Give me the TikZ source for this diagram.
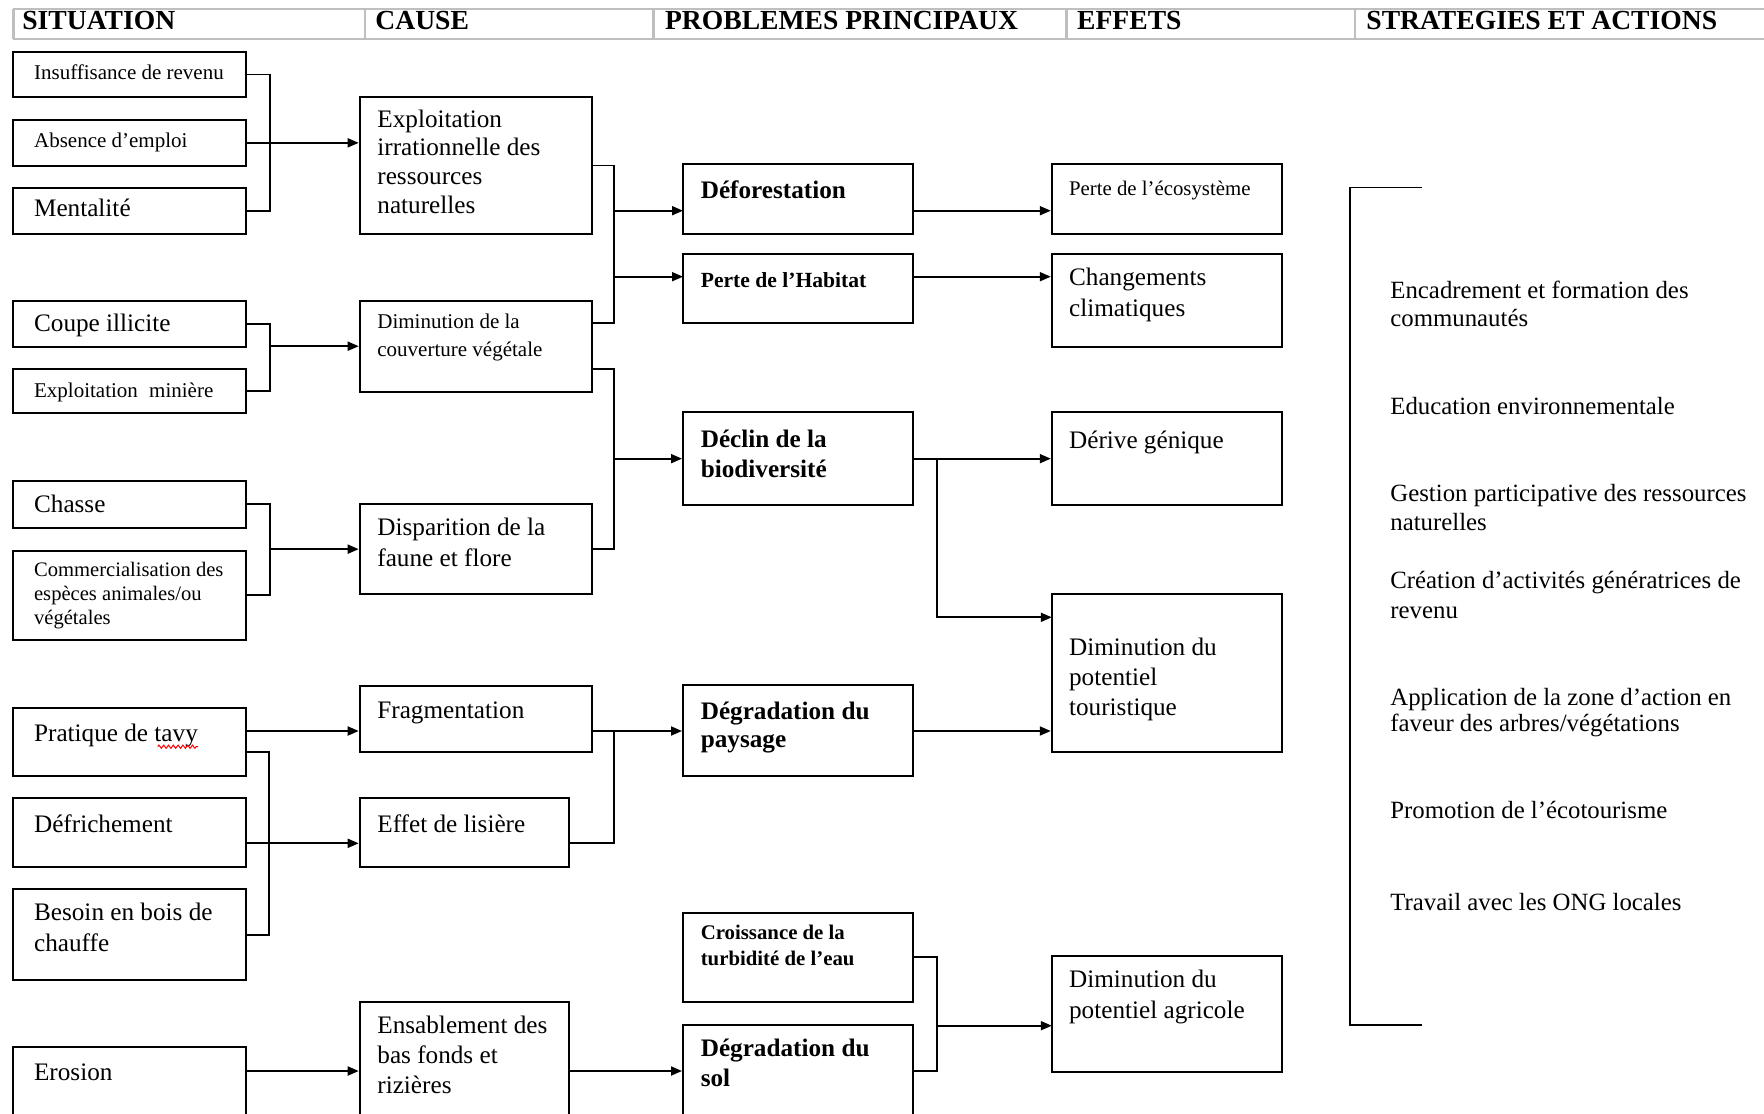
\documentclass[tikz,border=0pt]{standalone}
\usepackage{fontspec}
\setmainfont{Liberation Serif}
\usepackage{array}
\usetikzlibrary{arrows.meta,fit,decorations.pathmorphing}
\newcommand\boxtext[3]{\fontsize{#1}{#2}\selectfont\begin{tabular}[t]{@{}l@{}}#3\end{tabular}}
\newcommand\boxtextb[3]{\fontsize{#1}{#2}\selectfont\begin{tabular}[t]{@{}>{\bfseries}l@{}}#3\end{tabular}}
\begin{document}
\begin{tikzpicture}[x=0.5pt,y=-0.5pt,
  box/.style={draw=black, line width=1pt, inner sep=0pt},
  line/.style={draw=black, line width=0.9pt},
  arr/.style={line, -{Triangle[length=5.5pt,width=4.5pt]}},
  txt/.style={inner sep=0pt, anchor=base west},
  hdr/.style={draw=gray!50, line width=1.2pt},
  hdrtxt/.style={inner sep=0pt, anchor=base west, font=\fontsize{13.8}{16}\selectfont\bfseries}]
\useasboundingbox (0,0) rectangle (1764,1113);
\clip (0,0) rectangle (1764,1113);

% header table
\draw[hdr] (13.4,9) -- (1780,9);
\draw[hdr] (13.4,39) -- (1780,39);
\foreach \hx in {13.4,364.7,653.6,1066.5,1355} \draw[hdr] (\hx,9) -- (\hx,39);
\node[hdrtxt] (h1) at (22,29.5) {SITUATION};
\node[hdrtxt] (h2) at (375,29.5) {CAUSE};
\node[hdrtxt] (h3) at (664.7,29.5) {PROBLEMES PRINCIPAUX};
\node[hdrtxt] (h4) at (1076.8,29.5) {EFFETS};
\node[hdrtxt] (h5) at (1366,29.5) {STRATEGIES ET ACTIONS};

% situation boxes
\node[box, fit={(13.4,52.3)(245.7,96.7)}] (S1) {};
\node[box, fit={(13.4,120)(245.7,165.7)}] (S2) {};
\node[box, fit={(13.4,188.3)(245.7,234.3)}] (S3) {};
\node[box, fit={(13.4,300.7)(245.7,346.7)}] (S4) {};
\node[box, fit={(13.4,369)(245.7,413.3)}] (S5) {};
\node[box, fit={(13.4,481)(245.7,527.7)}] (S6) {};
\node[box, fit={(13.4,550.7)(245.7,640)}] (S7) {};
\node[box, fit={(13.4,708.3)(245.7,775.7)}] (S8) {};
\node[box, fit={(13.4,798.3)(245.7,867.3)}] (S9) {};
\node[box, fit={(13.4,889.3)(245.7,980)}] (S10) {};
\node[box, fit={(13.4,1047.3)(245.7,1130)}] (S11) {};
% cause boxes
\node[box, fit={(359.7,96.7)(592.4,234.3)}] (C1) {};
\node[box, fit={(359.7,300.7)(592.4,391.7)}] (C2) {};
\node[box, fit={(359.7,504.3)(592.4,594)}] (C3) {};
\node[box, fit={(359.7,685.7)(592.4,752.3)}] (C4) {};
\node[box, fit={(359.7,798.3)(569,867.3)}] (C5) {};
\node[box, fit={(359.7,1001.7)(569,1130)}] (C6) {};
% problem boxes
\node[box, fit={(683,164.3)(912.5,234.3)}] (P1) {};
\node[box, fit={(683,254.3)(912.5,323.3)}] (P2) {};
\node[box, fit={(683,412.3)(912.5,505)}] (P3) {};
\node[box, fit={(683,685)(912.5,775.7)}] (P4) {};
\node[box, fit={(683,912.7)(912.5,1002.3)}] (P5) {};
\node[box, fit={(683,1025)(912.5,1130)}] (P6) {};
% effect boxes
\node[box, fit={(1051.8,164.3)(1282,234.3)}] (E1) {};
\node[box, fit={(1051.8,254.3)(1282,346.7)}] (E2) {};
\node[box, fit={(1051.8,412.3)(1282,505)}] (E3) {};
\node[box, fit={(1051.8,594)(1282,752.3)}] (E4) {};
\node[box, fit={(1051.8,956)(1282,1071.7)}] (E5) {};

% texts: situation
\node[txt] (tS1) at (33.7,79.3) {\boxtext{10.5}{12.5}{Insuffisance de revenu}};
\node[txt] (tS2) at (33.7,147.7) {\boxtext{10.5}{12.5}{Absence d’emploi}};
\node[txt] (tS3) at (33.7,216.7) {\boxtext{12.6}{14.5}{Mentalité}};
\node[txt] (tS4) at (33.7,331.7) {\boxtext{12.6}{14.5}{Coupe illicite}};
\node[txt] (tS5) at (33.7,397) {\boxtext{10.5}{12.5}{Exploitation\hspace{3pt} minière}};
\node[txt] (tS6) at (33.7,512.7) {\boxtext{12.6}{14.5}{Chasse}};
\node[txt] (tS7) at (33.7,576) {\boxtext{10.3}{12.2}{Commercialisation des\\espèces animales/ou\\végétales}};
\node[txt] (tS8) at (33.7,741.7) {\boxtext{12.6}{14.5}{Pratique de tavy}};
\node[txt] (tS9) at (33.7,832.7) {\boxtext{12.6}{14.5}{Défrichement}};
\node[txt] (tS10) at (33.7,920.7) {\boxtext{12.6}{15.5}{Besoin en bois de\\chauffe}};
\node[txt] (tS11) at (33.7,1080.7) {\boxtext{12.6}{14.5}{Erosion}};
% texts: causes
\node[txt] (tC1) at (377,127.3) {\boxtext{12.6}{14.35}{Exploitation\\irrationnelle des\\ressources\\naturelles}};
\node[txt] (tC2) at (377,328.3) {\boxtext{10.5}{13.85}{Diminution de la\\couverture végétale}};
\node[txt] (tC3) at (377,535.7) {\boxtext{12.6}{15.5}{Disparition de la\\faune et flore}};
\node[txt] (tC4) at (377,718.3) {\boxtext{12.6}{14.5}{Fragmentation}};
\node[txt] (tC5) at (377,832.7) {\boxtext{12.6}{14.5}{Effet de lisière}};
\node[txt] (tC6) at (377,1033.3) {\boxtext{12.6}{15}{Ensablement des\\bas fonds et\\rizières}};
% texts: problems
\node[txt] (tP1) at (700.4,198.3) {\boxtextb{12.6}{14.5}{Déforestation}};
\node[txt] (tP2) at (700.4,287.3) {\boxtextb{10.8}{13}{Perte de l’Habitat}};
\node[txt] (tP3) at (700.4,447.3) {\boxtextb{12.6}{15}{Déclin de la\\biodiversité}};
\node[txt] (tP4) at (700.4,719) {\boxtextb{12.6}{14.15}{Dégradation du\\paysage}};
\node[txt] (tP5) at (700.4,939) {\boxtextb{10.4}{13.35}{Croissance de la\\turbidité de l’eau}};
\node[txt] (tP6) at (700.4,1056.7) {\boxtextb{12.6}{14.65}{Dégradation du\\sol}};
% texts: effects
\node[txt] (tE1) at (1068.7,195.7) {\boxtext{10.4}{12.5}{Perte de l’écosystème}};
\node[txt] (tE2) at (1068.7,285) {\boxtext{12.6}{15.5}{Changements\\climatiques}};
\node[txt] (tE3) at (1068.7,448.3) {\boxtext{12.6}{14.5}{Dérive génique}};
\node[txt] (tE4) at (1068.7,655.7) {\boxtext{12.6}{14.85}{Diminution du\\potentiel\\touristique}};
\node[txt] (tE5) at (1068.7,987.7) {\boxtext{12.6}{15.3}{Diminution du\\potentiel agricole}};
% texts: strategies
\node[txt] (g1) at (1390,298.2) {\boxtext{12.4}{14.3}{Encadrement et formation des\\communautés}};
\node[txt] (g2) at (1390,414.3) {\boxtext{12.4}{14.3}{Education environnementale}};
\node[txt] (g3) at (1390,501.8) {\boxtext{12.4}{14.3}{Gestion participative des ressources\\naturelles}};
\node[txt] (g4) at (1390,588.3) {\boxtext{12.4}{15}{Création d’activités génératrices de\\revenu}};
\node[txt] (g5) at (1390,705) {\boxtext{12.4}{13.35}{Application de la zone d’action en\\faveur des arbres/végétations}};
\node[txt] (g6) at (1390,818.3) {\boxtext{12.4}{14.3}{Promotion de l’écotourisme}};
\node[txt] (g7) at (1390,910) {\boxtext{12.4}{14.3}{Travail avec les ONG locales}};

% spell-check squiggle under "tavy"
\draw[red, line width=0.5pt, decorate, decoration={zigzag, amplitude=0.8pt, segment length=2.4pt}] (157.7,746.7) -- (198.2,746.7);

% junction columns
\coordinate (jS) at (269,0);
\coordinate (jC) at (613.6,0);
\coordinate (jP) at (937,0);
\coordinate (jB) at (1350,0);
% levels
\coordinate (s8a) at (245.7,731);
\coordinate (s8b) at (245.7,751.7);
\coordinate (s9a) at (245.7,843.3);
\coordinate (c2a) at (592.4,322.7);
\coordinate (c2b) at (592.4,369.3);
\coordinate (p1a) at (683,210.7);
\coordinate (p2a) at (683,276.7);
\coordinate (e4a) at (1051.8,617.3);
\coordinate (p5a) at (912.5,956.7);
\coordinate (e5a) at (1051.8,1025.7);
\coordinate (lowy) at (0,1071);
\coordinate (bt) at (1421.7,187.5);
\coordinate (bb) at (1421.7,1025);

% situation -> cause
\draw[line] (S1.east) -- ++(23.3,0) |- (S3.east);
\draw[arr] (S2.east) -- (S2.east -| C1.west);
\draw[line] (S4.east) -- ++(23.3,0) |- (S5.east);
\draw[arr] (C2.west -| jS) -- (C2.west);
\draw[line] (S6.east) -- ++(23.3,0) |- (S7.east);
\draw[arr] (C3.west -| jS) -- (C3.west);
\draw[arr] (s8a) -- (s8a -| C4.west);
\draw[line] (s8b) -- (s8b -| jS) |- (S10.east);
\draw[arr] (s9a) -- (s9a -| C5.west);
\draw[arr] (lowy -| S11.east) -- (lowy -| C6.west);

% cause -> problems
\draw[line] (C1.east) -- (C1.east -| jC) -- (c2a -| jC) -- (c2a);
\draw[arr] (p1a -| jC) -- (p1a);
\draw[arr] (p2a -| jC) -- (p2a);
\draw[line] (c2b) -- (c2b -| jC) -- (C3.east -| jC) -- (C3.east);
\draw[arr] (P3.west -| jC) -- (P3.west);
\draw[line] (s8a -| C4.east) -- (s8a -| jC) -- (s9a -| jC) -- (s9a -| C5.east);
\draw[arr] (s8a -| jC) -- (s8a -| P4.west);
\draw[arr] (lowy -| C6.east) -- (lowy -| P6.west);

% problems -> effects
\draw[arr] (p1a -| P1.east) -- (p1a -| E1.west);
\draw[arr] (p2a -| P2.east) -- (p2a -| E2.west);
\draw[arr] (P3.east) -- (P3.east -| E3.west);
\draw[arr] (P3.east -| jP) |- (e4a);
\draw[arr] (s8a -| P4.east) -- (s8a -| E4.west);
\draw[line] (p5a) -- (p5a -| jP) -- (lowy -| jP) -- (lowy -| P6.east);
\draw[arr] (e5a -| jP) -- (e5a);

% strategies bracket
\draw[line] (bt) -- (bt -| jB) -- (bb -| jB) -- (bb);
\end{tikzpicture}
\end{document}
